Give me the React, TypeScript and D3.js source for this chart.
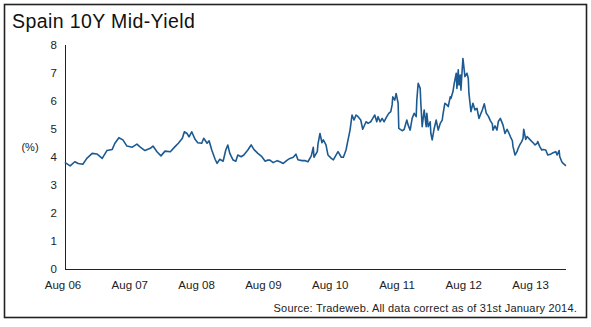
import React from "react";
import * as d3 from "d3";

const TITLE = "Spain 10Y Mid-Yield";
const SOURCE = "Source: Tradeweb. All data correct as of 31st January 2014.";
const Y_LABEL = "(%)";
const yTicks = [0, 1, 2, 3, 4, 5, 6, 7, 8];
const xTickLabels = ["Aug 06", "Aug 07", "Aug 08", "Aug 09", "Aug 10", "Aug 11", "Aug 12", "Aug 13"];
const xTickTimes = [2006.583, 2007.583, 2008.583, 2009.583, 2010.583, 2011.583, 2012.583, 2013.583];

// decimal year of each observation
const times = [
  2006.58, 2006.66, 2006.73, 2006.78, 2006.85, 2006.91, 2006.99, 2007.06, 2007.14, 2007.21,
  2007.29, 2007.33, 2007.39, 2007.45, 2007.51, 2007.59, 2007.66, 2007.71, 2007.78, 2007.86,
  2007.90, 2007.96, 2008.02, 2008.08, 2008.16, 2008.23, 2008.28, 2008.34, 2008.37, 2008.41,
  2008.44, 2008.48, 2008.53, 2008.57, 2008.63, 2008.66, 2008.71, 2008.74, 2008.78, 2008.83,
  2008.86, 2008.90, 2008.95, 2008.99, 2009.02, 2009.05, 2009.10, 2009.14, 2009.17, 2009.22,
  2009.26, 2009.32, 2009.37, 2009.41, 2009.47, 2009.53, 2009.58, 2009.62, 2009.65, 2009.70,
  2009.76, 2009.80, 2009.85, 2009.91, 2009.95, 2010.00, 2010.04, 2010.07, 2010.13, 2010.18,
  2010.22, 2010.27, 2010.30, 2010.31, 2010.36, 2010.37, 2010.40, 2010.43, 2010.45, 2010.49,
  2010.52, 2010.57, 2010.60, 2010.64, 2010.67, 2010.72, 2010.75, 2010.79, 2010.82, 2010.85,
  2010.88, 2010.91, 2010.94, 2010.97, 2011.01, 2011.04, 2011.09, 2011.12, 2011.16, 2011.19,
  2011.22, 2011.25, 2011.27, 2011.30, 2011.33, 2011.36, 2011.40, 2011.43, 2011.46, 2011.48,
  2011.49, 2011.52, 2011.54, 2011.57, 2011.58, 2011.63, 2011.66, 2011.70, 2011.72, 2011.75,
  2011.78, 2011.81, 2011.84, 2011.85, 2011.87, 2011.90, 2011.91, 2011.93, 2011.96, 2011.99,
  2012.00, 2012.02, 2012.05, 2012.06, 2012.08, 2012.11, 2012.14, 2012.17, 2012.20, 2012.23,
  2012.24, 2012.27, 2012.30, 2012.32, 2012.35, 2012.36, 2012.39, 2012.41, 2012.44, 2012.45,
  2012.47, 2012.48, 2012.50, 2012.51, 2012.53, 2012.54, 2012.57, 2012.60, 2012.62, 2012.63,
  2012.66, 2012.69, 2012.72, 2012.75, 2012.78, 2012.83, 2012.86, 2012.89, 2012.92, 2012.95,
  2012.98, 2012.99, 2013.02, 2013.05, 2013.07, 2013.10, 2013.13, 2013.14, 2013.17, 2013.20,
  2013.22, 2013.25, 2013.28, 2013.29, 2013.32, 2013.35, 2013.36, 2013.39, 2013.42, 2013.44,
  2013.45, 2013.48, 2013.50, 2013.54, 2013.59, 2013.62, 2013.65, 2013.66, 2013.69, 2013.72,
  2013.74, 2013.78, 2013.81, 2013.86, 2013.89, 2013.93, 2013.95, 2013.98, 2013.99, 2014.02,
  2014.04, 2014.07, 2014.08,
];

// mid-yield, %
const yields = [
  3.81, 3.68, 3.83, 3.77, 3.74, 3.95, 4.13, 4.11, 3.95, 4.23,
  4.27, 4.49, 4.69, 4.61, 4.39, 4.35, 4.46, 4.35, 4.23, 4.31,
  4.39, 4.19, 4.04, 4.21, 4.19, 4.37, 4.49, 4.67, 4.90, 4.84,
  4.72, 4.90, 4.63, 4.51, 4.49, 4.67, 4.49, 4.58, 4.25, 3.92,
  3.77, 3.92, 3.85, 4.25, 4.43, 4.13, 3.89, 3.85, 4.07, 4.01,
  4.07, 4.25, 4.43, 4.27, 4.13, 4.01, 3.85, 3.89, 3.89, 3.80,
  3.87, 3.83, 3.77, 3.89, 3.95, 3.99, 4.10, 3.90, 3.87, 3.87,
  3.83, 4.04, 4.35, 3.99, 4.19, 4.46, 4.84, 4.51, 4.61, 4.43,
  4.07, 3.95, 3.90, 4.07, 4.19, 3.99, 3.99, 4.25, 4.61, 4.96,
  5.50, 5.32, 5.50, 5.44, 5.32, 4.99, 5.26, 5.20, 5.26, 5.38,
  5.50, 5.26, 5.44, 5.26, 5.38, 5.26, 5.44, 5.56, 5.62, 5.86,
  6.15, 6.03, 6.27, 5.92, 5.02, 4.94, 4.98, 5.32, 5.14, 4.96,
  5.38, 5.56, 5.44, 6.04, 6.63, 6.45, 5.92, 5.08, 5.68, 5.08,
  5.56, 5.08, 5.26, 4.84, 4.61, 5.02, 5.32, 4.96, 5.20, 5.32,
  5.50, 5.92, 5.86, 5.80, 6.15, 6.09, 6.33, 6.63, 6.99, 6.45,
  7.11, 6.57, 6.93, 6.39, 7.17, 7.52, 6.87, 6.99, 6.81, 6.27,
  5.62, 5.92, 5.68, 5.74, 5.38, 5.68, 5.90, 5.56, 5.46, 5.30,
  5.18, 4.96, 5.11, 4.96, 5.27, 5.38, 5.20, 5.14, 4.84, 4.99,
  4.90, 4.73, 4.58, 4.37, 4.07, 4.19, 4.27, 4.43, 4.55, 4.67,
  4.99, 4.63, 4.73, 4.63, 4.51, 4.43, 4.49, 4.55, 4.37, 4.25,
  4.27, 4.25, 4.07, 4.11, 4.15, 4.19, 4.07, 4.23, 4.01, 3.83,
  3.77, 3.71, 3.68,
];

const W = 591;
const H = 327;
const FONT = "'Liberation Sans', Arial, sans-serif";

export default function App() {
  const x = d3.scaleLinear().domain([2006.583, 2014.083]).range([65, 566]);
  const y = d3.scaleLinear().domain([0, 8]).range([269, 45]);
  const pts: [number, number][] = times.map((t, i) => [t, yields[i]]);
  const line = d3
    .line<[number, number]>()
    .x((d) => x(d[0]))
    .y((d) => y(d[1]));

  return (
    <svg width={W} height={H} style={{ position: "absolute", left: 0, top: 0, background: "#fff" }}>
      <rect x={4.5} y={4.5} width={582} height={313} fill="#fff" stroke="#222" strokeWidth={1.6} />
      <text x={12} y={28} fontFamily={FONT} fontSize={19.5} letterSpacing={0.4} fill="#111">
        {TITLE}
      </text>
      {yTicks.map((t) => (
        <text key={t} x={57} y={y(t) + 4} textAnchor="end" fontFamily={FONT} fontSize={11.5} fill="#222">
          {t}
        </text>
      ))}
      <text x={30} y={151} textAnchor="middle" fontFamily={FONT} fontSize={11} fill="#222">
        {Y_LABEL}
      </text>
      <line x1={65.5} x2={65.5} y1={y(8)} y2={y(0)} stroke="#222" strokeWidth={1} />
      <line x1={65} x2={x(2014.083)} y1={y(0) + 0.5} y2={y(0) + 0.5} stroke="#222" strokeWidth={1} />
      {xTickTimes.map((t, i) => (
        <text key={i} x={x(t) - 2} y={289} textAnchor="middle" fontFamily={FONT} fontSize={11.5} fill="#222">
          {xTickLabels[i]}
        </text>
      ))}
      <path d={line(pts) || ""} fill="none" stroke="#1d5a91" strokeWidth={1.6} strokeLinejoin="round" />
      <text x={577} y={312} textAnchor="end" fontFamily={FONT} fontSize={11} letterSpacing={0.2} fill="#222">
        {SOURCE}
      </text>
    </svg>
  );
}
